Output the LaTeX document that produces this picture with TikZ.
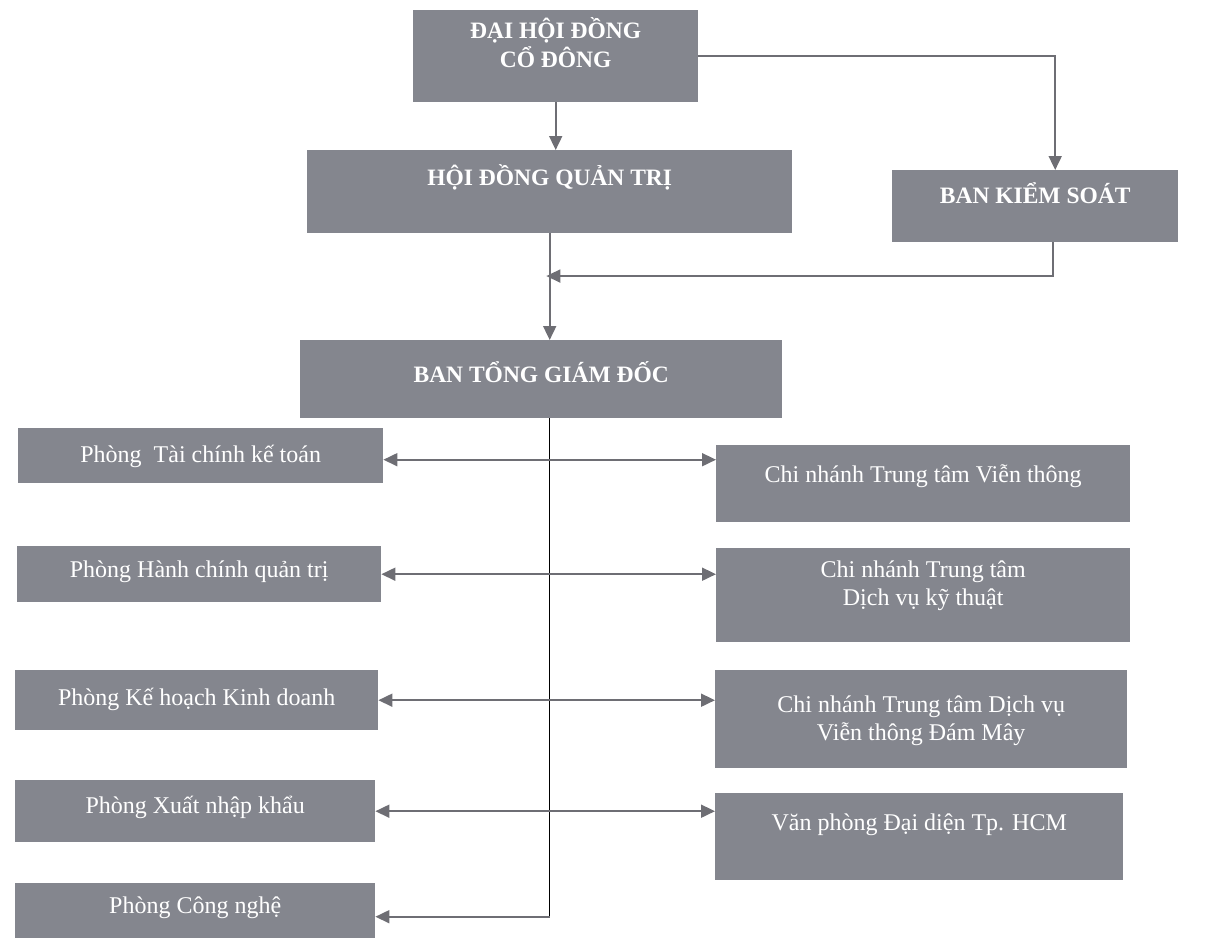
\documentclass[tikz,border=0pt]{standalone}
\usepackage{fontspec}
\setmainfont{Liberation Serif}
\usetikzlibrary{arrows.meta, calc, positioning}
\definecolor{nenkhoi}{RGB}{132,134,142}
\definecolor{netxam}{RGB}{110,110,116}

\tikzset{
  khoi/.style={fill=nenkhoi, text=white, inner sep=0pt, anchor=north west, align=center},
  khoidam/.style={khoi, font=\bfseries\fontsize{23.5}{29}\selectfont},
  khoithuong/.style={khoi, font=\fontsize{24}{28}\selectfont},
  muiten/.style={draw=netxam, line width=1.8pt, -{Triangle[length=14pt,width=13pt]}},
  haimui/.style={draw=netxam, line width=1.8pt, {Triangle[length=14pt,width=13pt]}-{Triangle[length=14pt,width=13pt]}},
  truc/.style={draw=black, line width=1.4pt}
}

\begin{document}
\begin{tikzpicture}[x=1pt, y=-1pt]
  \useasboundingbox (0,0) rectangle (1223,938);

  % cap lanh dao
  \node[khoidam, minimum width=285pt, text height=57pt, text depth=35pt] (dhcd) at (413,10) {ĐẠI HỘI ĐỒNG\\CỔ ĐÔNG};
  \node[khoidam, minimum width=485pt, text height=35pt, text depth=48pt] (hdqt) at (307,150) {HỘI ĐỒNG QUẢN TRỊ};
  \node[khoidam, minimum width=286pt, text height=33pt, text depth=39pt] (bks) at (892,170) {BAN KIỂM SOÁT};
  \node[khoidam, minimum width=482pt, text height=42pt, text depth=36pt] (btgd) at (300,340) {BAN TỔNG GIÁM ĐỐC};

  % cac phong ben trai
  \node[khoithuong, minimum width=365pt, text height=34pt, text depth=21pt] (tck) at (18,428) {Phòng~~Tài chính kế toán};
  \node[khoithuong, minimum width=364pt, text height=31pt, text depth=25pt] (hcqt) at (17,546) {Phòng Hành chính quản trị};
  \node[khoithuong, minimum width=363pt, text height=35pt, text depth=25pt] (khkd) at (15,670) {Phòng Kế hoạch Kinh doanh};
  \node[khoithuong, minimum width=360pt, text height=33pt, text depth=29pt] (xnk) at (15,780) {Phòng Xuất nhập khẩu};
  \node[khoithuong, minimum width=360pt, text height=30pt, text depth=25pt] (cn) at (15,883) {Phòng Công nghệ};

  % cac chi nhanh ben phai
  \node[khoithuong, minimum width=414pt, text height=37pt, text depth=40pt] (cnvt) at (716,445) {Chi nhánh Trung tâm Viễn thông};
  \node[khoithuong, minimum width=414pt, text height=57pt, text depth=37pt] (dvkt) at (716,548) {Chi nhánh Trung tâm\\Dịch vụ kỹ thuật};
  \node[khoithuong, minimum width=412pt, text height=70pt, text depth=28pt] (dm) at (715,670) {Chi nhánh Trung tâm Dịch vụ\\Viễn thông Đám Mây};
  \node[khoithuong, minimum width=408pt, text height=37pt, text depth=50pt] (hcm) at (715,793) {Văn phòng Đại diện Tp. HCM};

  % quan he
  \draw[muiten] (dhcd.south) -- (dhcd.south |- hdqt.north);
  \draw[muiten] (dhcd.east) -| ([xshift=20pt]bks.north);
  \draw[muiten] ([xshift=18pt]bks.south) |- ($(hdqt.south)!0.4!(btgd.north)$);
  \draw[muiten] (hdqt.south) -- (hdqt.south |- btgd.north);

  \coordinate (goc) at ([yshift=-6pt]cn.east -| hdqt.south);
  \draw[truc] (btgd.south -| hdqt.south) -- (goc);
  \draw[muiten] (goc) -- (goc -| cn.east);

  \draw[haimui] ([yshift=-4pt]tck.east) -- ([yshift=-4pt]tck.east -| cnvt.west);
  \draw[haimui] (hcqt.east) -- (hcqt.east -| dvkt.west);
  \draw[haimui] (khkd.east) -- (khkd.east -| dm.west);
  \draw[haimui] (xnk.east) -- (xnk.east -| hcm.west);
\end{tikzpicture}
\end{document}
